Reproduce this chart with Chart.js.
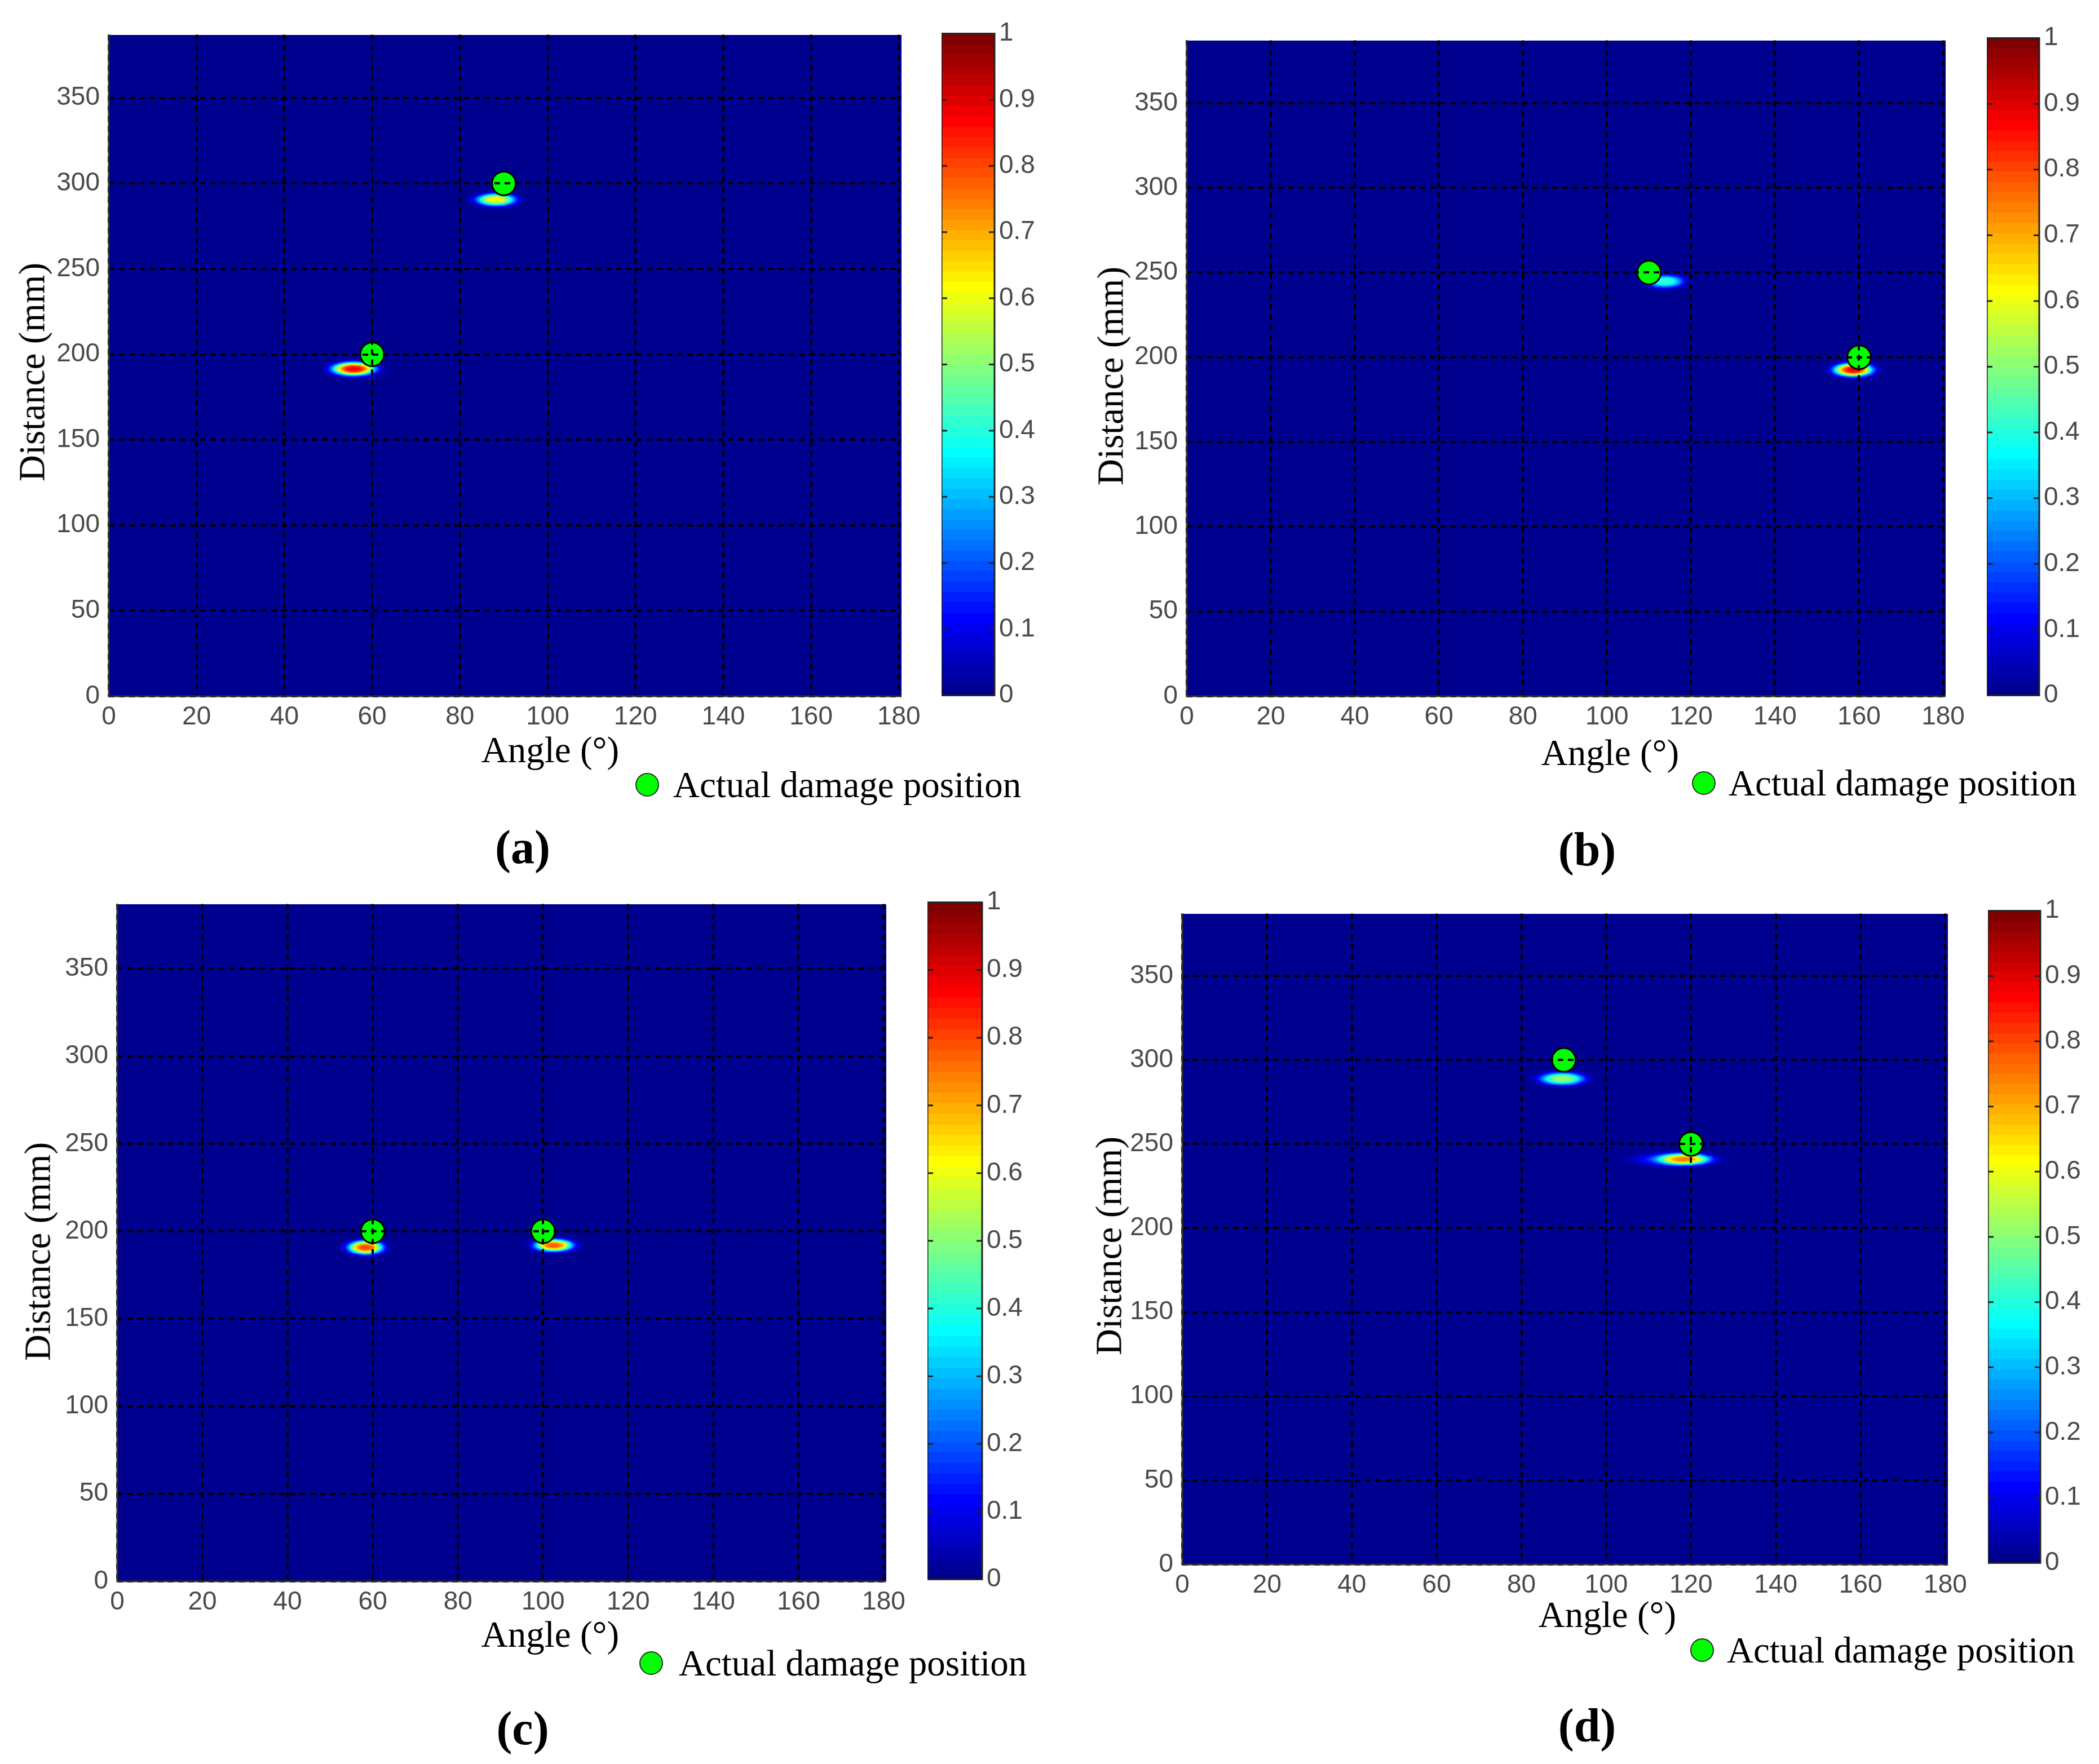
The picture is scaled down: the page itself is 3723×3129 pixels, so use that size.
<!DOCTYPE html>
<html>
<head>
<meta charset="utf-8">
<script src="https://cdn.jsdelivr.net/npm/chart.js@4.4.1/dist/chart.umd.min.js"></script>
<style>
  html, body { margin: 0; padding: 0; background: #fff; }
  body { width: 3723px; height: 3129px; position: relative; overflow: hidden; }
  canvas { position: absolute; }
  .t { position: absolute; font-family: "Liberation Serif", "Times New Roman", serif; color: #000; white-space: nowrap; line-height: 1; }
  .xt { font-size: 65px; transform: translate(-50%, -50%); }
  .yt { font-size: 65px; transform: translate(-50%, -50%) rotate(-90deg); }
  .lg { font-size: 65px; transform: translateY(-50%); }
  .sub { font-size: 84px; font-weight: bold; transform: translate(-50%, -50%); }
  .dot { position: absolute; width: 42px; height: 42px; border-radius: 50%; background: #00ff00; border: 2px solid #2a2a2a; box-sizing: border-box; transform: translate(-50%, -50%); }
</style>
</head>
<body>
<script>
const angleTicks = [0, 20, 40, 60, 80, 100, 120, 140, 160, 180];
const distanceTicks = [0, 50, 100, 150, 200, 250, 300, 350];
const colorbarTicks = [0, 0.1, 0.2, 0.3, 0.4, 0.5, 0.6, 0.7, 0.8, 0.9, 1];
const angleMax = 180.6;
const distanceMax = 387;

// actual damage positions [angle, distance]
const damageA = [[60, 200], [90, 300]];
const damageB = [[110, 250], [160, 200]];
const damageC = [[60, 200], [100, 200]];
const damageD = [[90, 300], [120, 250]];

// hot spots: [angle, distance, peak, spread angle, spread distance]
const spotsA = [[55.8, 191.5, 0.88, 3.7, 3.0], [88.2, 290.5, 0.62, 3.4, 2.8]];
const spotsB = [[113.8, 244.8, 0.42, 3.4, 2.9], [158.6, 192.6, 0.88, 3.5, 3.0]];
const spotsC = [[58.3, 190.8, 0.8, 3.1, 3.0], [102.5, 192, 0.78, 3.4, 2.7]];
const spotsD = [[89.6, 288.8, 0.52, 4.0, 2.9], [118.4, 241, 0.57, 4.5, 2.7], [116, 240.8, 0.18, 7.0, 2.9]];

const panels = [
  { name: "(a)", damage: damageA, spots: spotsA, plot: [193, 48, 1599, 1235], bar: [1670, 54, 1764, 1239],
    yTitle: [57, 660], xTitle: [976, 1330], legend: [1148, 1392, 1194], sub: [927, 1503] },
  { name: "(b)", damage: damageB, spots: spotsB, plot: [2105, 58, 3451, 1235], bar: [3524, 62, 3617, 1239],
    yTitle: [1970, 667], xTitle: [2856, 1335], legend: [3022, 1389, 3066], sub: [2815, 1507] },
  { name: "(c)", damage: damageC, spots: spotsC, plot: [208, 1590, 1572, 2805], bar: [1645, 1595, 1742, 2807],
    yTitle: [67, 2220], xTitle: [976, 2899], legend: [1155, 2950, 1204], sub: [927, 3066] },
  { name: "(d)", damage: damageD, spots: spotsD, plot: [2097, 1607, 3455, 2775], bar: [3526, 1610, 3619, 2778],
    yTitle: [1967, 2210], xTitle: [2851, 2864], legend: [3019, 2927, 3063], sub: [2815, 3061] }
];

const tickFont = { family: '"Liberation Sans", Arial, sans-serif', size: 46 };
const tickColor = "#4a4a4a";

// matlab jet(64)
const JET = (() => {
  const n = 16, u = [];
  for (let i = 1; i <= n; i++) u.push(i / n);
  for (let i = 0; i < n - 1; i++) u.push(1);
  for (let i = n; i >= 1; i--) u.push(i / n);
  const J = [];
  for (let i = 0; i < 64; i++) J.push([0, 0, 0]);
  u.forEach((v, k) => {
    const g = 8 + k + 1, r = g + n, b = g - n;
    if (g <= 64) J[g - 1][1] = v;
    if (r <= 64) J[r - 1][0] = v;
    if (b >= 1) J[b - 1][2] = v;
  });
  return J.map(c => c.map(x => Math.round(x * 255)));
})();

function jetAt(v) {
  const t = Math.min(Math.max(v, 0), 1) * 63;
  const i = Math.floor(t), f = t - i, j = Math.min(i + 1, 63);
  const a = JET[i], b = JET[j];
  return [a[0] + (b[0] - a[0]) * f, a[1] + (b[1] - a[1]) * f, a[2] + (b[2] - a[2]) * f];
}

const heatField = {
  id: "heatField",
  beforeDatasetsDraw(chart, args, opts) {
    const a = chart.chartArea, xs = chart.scales.x, ys = chart.scales.y;
    const left = Math.round(a.left), top = Math.round(a.top);
    const w = Math.round(a.right) - left, h = Math.round(a.bottom) - top;
    if (!chart.$heat) {
      const img = chart.ctx.createImageData(w, h);
      const xv = new Float64Array(w), yv = new Float64Array(h);
      for (let i = 0; i < w; i++) xv[i] = xs.getValueForPixel(left + i + 0.5);
      for (let j = 0; j < h; j++) yv[j] = ys.getValueForPixel(top + j + 0.5);
      const spots = opts.spots;
      for (let j = 0; j < h; j++) {
        for (let i = 0; i < w; i++) {
          let v = 0;
          for (let s = 0; s < spots.length; s++) {
            const sp = spots[s];
            const dx = (xv[i] - sp[0]) / sp[3], dy = (yv[j] - sp[1]) / sp[4];
            const q = dx * dx + dy * dy;
            if (q < 16) v += sp[2] * Math.exp(-0.5 * q * Math.sqrt(q));
          }
          const c = jetAt(v), k = (j * w + i) * 4;
          img.data[k] = c[0]; img.data[k + 1] = c[1]; img.data[k + 2] = c[2]; img.data[k + 3] = 255;
        }
      }
      chart.$heat = img;
    }
    chart.ctx.putImageData(chart.$heat, left, top);
  },
  afterDraw(chart) {
    // solid axis lines on the left and bottom edge
    const a = chart.chartArea, ctx = chart.ctx;
    ctx.save();
    ctx.strokeStyle = "#333";
    ctx.lineWidth = 3;
    ctx.setLineDash([]);
    ctx.beginPath();
    ctx.moveTo(a.left, a.top); ctx.lineTo(a.left, a.bottom); ctx.lineTo(a.right, a.bottom);
    ctx.stroke();
    ctx.restore();
  }
};

const colorbarFrame = {
  id: "colorbarFrame",
  afterDraw(chart) {
    const a = chart.chartArea, ys = chart.scales.y, ctx = chart.ctx;
    ctx.save();
    ctx.strokeStyle = "#222";
    ctx.lineWidth = 3;
    colorbarTicks.slice(1, -1).forEach(v => {
      const y = ys.getPixelForValue(v);
      ctx.beginPath();
      ctx.moveTo(a.left, y); ctx.lineTo(a.left + 10, y);
      ctx.moveTo(a.right - 10, y); ctx.lineTo(a.right, y);
      ctx.stroke();
    });
    ctx.strokeRect(a.left, a.top, a.right - a.left, a.bottom - a.top);
    ctx.restore();
  }
};

function jetGradient(c) {
  const a = c.chart.chartArea;
  if (!a) return "rgb(0,0,143)";
  const g = c.chart.ctx.createLinearGradient(0, a.bottom, 0, a.top);
  JET.forEach((col, i) => {
    const s = `rgb(${col[0]},${col[1]},${col[2]})`;
    g.addColorStop(i / 64, s);
    g.addColorStop(Math.min((i + 1) / 64 - 0.0001, 1), s);
  });
  return g;
}

function addText(cls, txt, x, y) {
  const d = document.createElement("div");
  d.className = "t " + cls;
  d.textContent = txt;
  d.style.left = x + "px";
  d.style.top = y + "px";
  document.body.appendChild(d);
  return d;
}

const PL = 150, PT = 30, PR = 55, PB = 80;

panels.forEach(p => {
  const [L, T, R, B] = p.plot;
  const cv = document.createElement("canvas");
  cv.width = R - L + PL + PR;
  cv.height = B - T + PT + PB;
  cv.style.left = (L - PL) + "px";
  cv.style.top = (T - PT) + "px";
  document.body.appendChild(cv);

  new Chart(cv, {
    type: "scatter",
    data: {
      datasets: [{
        label: "Actual damage position",
        data: p.damage.map(([x, y]) => ({ x, y })),
        backgroundColor: "#00ff00",
        borderColor: "#000",
        borderWidth: 3,
        pointRadius: 21
      }]
    },
    options: {
      responsive: false, animation: false, devicePixelRatio: 1, events: [],
      layout: { padding: { top: PT, right: PR, left: 0, bottom: 0 } },
      plugins: { legend: { display: false }, tooltip: { enabled: false }, heatField: { spots: p.spots } },
      scales: {
        x: {
          type: "linear", min: 0, max: angleMax,
          afterBuildTicks: s => { s.ticks = angleTicks.map(v => ({ value: v })); },
          afterFit: s => { s.height = PB; },
          grid: { color: "#000", lineWidth: 4, drawTicks: false, z: 1 },
          border: { display: false, dash: [10, 8] },
          ticks: { color: tickColor, font: tickFont, padding: 10, maxRotation: 0, autoSkip: false }
        },
        y: {
          type: "linear", min: 0, max: distanceMax,
          afterBuildTicks: s => { s.ticks = distanceTicks.map(v => ({ value: v })); },
          afterFit: s => { s.width = PL; },
          grid: { color: "#000", lineWidth: 4, drawTicks: false, z: 1 },
          border: { display: false, dash: [10, 8] },
          ticks: { color: tickColor, font: tickFont, padding: 16, autoSkip: false }
        }
      }
    },
    plugins: [heatField]
  });

  // colour bar
  const [CL, CT, CR, CB] = p.bar;
  const cb = document.createElement("canvas");
  cb.width = CR - CL + 150;
  cb.height = CB - CT + 60;
  cb.style.left = CL + "px";
  cb.style.top = (CT - 30) + "px";
  document.body.appendChild(cb);

  new Chart(cb, {
    type: "bar",
    data: {
      labels: ["jet"],
      datasets: [{
        data: [[colorbarTicks[0], colorbarTicks[colorbarTicks.length - 1]]],
        backgroundColor: jetGradient,
        borderWidth: 0,
        barPercentage: 1,
        categoryPercentage: 1
      }]
    },
    options: {
      responsive: false, animation: false, devicePixelRatio: 1, events: [],
      layout: { padding: { top: 30, bottom: 30, left: 0, right: 0 } },
      plugins: { legend: { display: false }, tooltip: { enabled: false } },
      scales: {
        x: { display: false },
        y: {
          position: "right", min: 0, max: 1,
          afterBuildTicks: s => { s.ticks = colorbarTicks.map(v => ({ value: v })); },
          afterFit: s => { s.width = 150; },
          grid: { display: false, drawTicks: false },
          border: { display: false },
          ticks: { color: tickColor, font: tickFont, padding: 8, autoSkip: false, callback: v => String(v) }
        }
      }
    },
    plugins: [colorbarFrame]
  });

  addText("yt", "Distance (mm)", p.yTitle[0], p.yTitle[1]);
  addText("xt", "Angle (°)", p.xTitle[0], p.xTitle[1]);
  const dot = document.createElement("div");
  dot.className = "dot";
  dot.style.left = p.legend[0] + "px";
  dot.style.top = p.legend[1] + "px";
  document.body.appendChild(dot);
  addText("lg", "Actual damage position", p.legend[2], p.legend[1]);
  addText("sub", p.name, p.sub[0], p.sub[1]);
});
</script>
</body>
</html>
